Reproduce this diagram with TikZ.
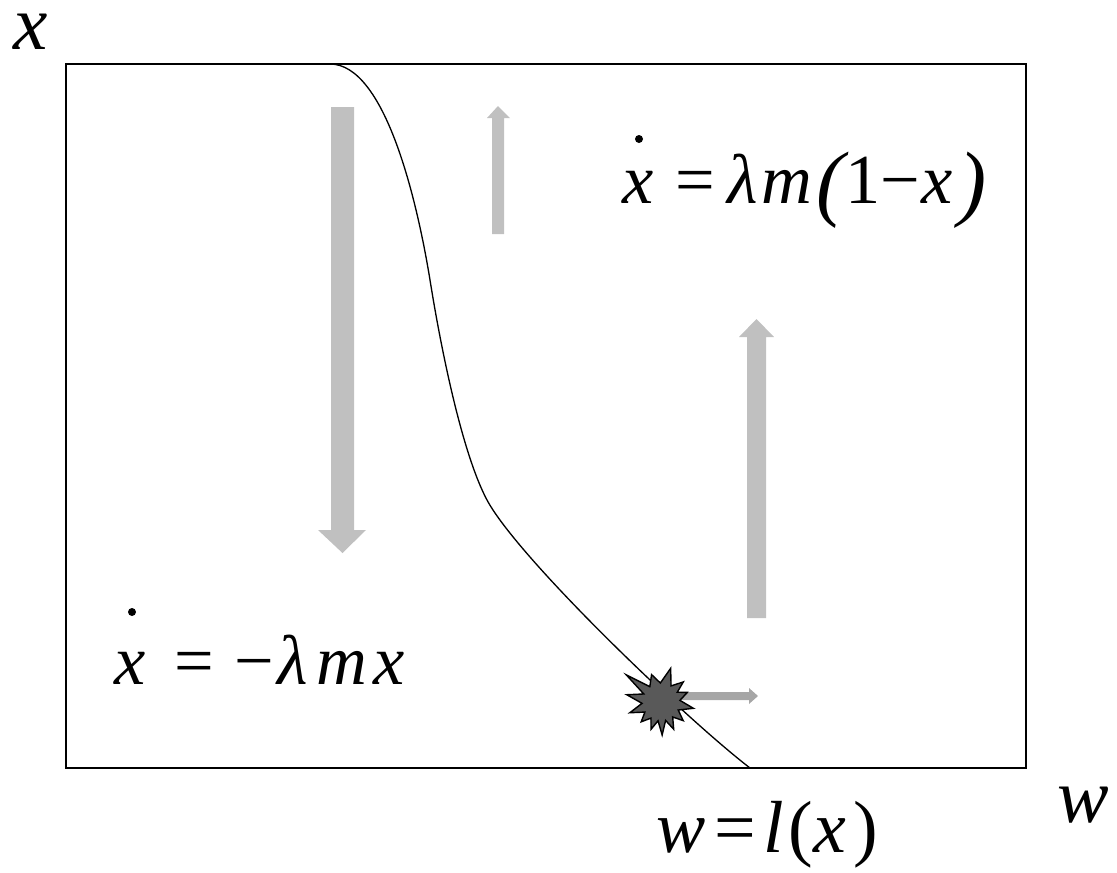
\documentclass[tikz,border=0pt]{standalone}
\usepackage{fontspec}
\setmainfont{Liberation Serif}
\definecolor{flowgray}{HTML}{C0C0C0}
\definecolor{pushgray}{HTML}{A6A6A6}
\definecolor{burstgray}{HTML}{595959}
\newcommand{\axisfont}{\fontsize{44}{48}\selectfont\itshape}
\newcommand{\eqfont}{\fontsize{40}{44}\selectfont}
\newcommand{\bigparen}[1]{\raisebox{-4pt}{\fontsize{48}{52}\selectfont #1}}
\begin{document}
\begin{tikzpicture}[x=.02cm,y=-.02cm,line width=.85pt,
  every node/.style={inner sep=0pt,anchor=base west},
  flow/.style={fill=flowgray,draw=none},
  push/.style={fill=pushgray,draw=none}]
  \path[use as bounding box] (0,0) rectangle (1117,873);
  \draw (66,64) rectangle (1026,768);
  \coordinate (burst) at (661,702);
  % the boundary w = l(x)
  \draw[line width=.75pt] (330,64) .. controls (385,64) and (417,200) .. (430,280)
    .. controls (442,355) and (463,455) .. (487,500)
    .. controls (518,558) and (685,718) .. (750,768);
  % flow of x
  \fill[flow] (331,107) -- (354,107) -- (354,530) -- (366,530) -- (342.5,553) -- (318,530)
    -- (331,530) -- cycle;
  \fill[flow] (492,234) -- (504,234) -- (504,118) -- (510,118) -- (498,106) -- (487,118)
    -- (492,118) -- cycle;
  \fill[flow] (747,618) -- (766,618) -- (766,337) -- (774,337) -- (756.5,319) -- (739,337)
    -- (747,337) -- cycle;
  \fill[push] (661,692) -- (749,692) -- (749,688) -- (758,696) -- (749,704) -- (749,700)
    -- (661,700) -- cycle;
  % the burst on the boundary
  \draw[fill=burstgray,line width=.8pt,line join=miter] (burst) +(11:33)
    \foreach \a/\r in {25/19,40/29,52/19,65/30,76/19,88/33,99/19,110/29,122/19,135/28,
      148/19,161/33,176/19,192/35,205/19,218/44,234/19,251/29,268/19,286/35,302/19,
      318/30,329/19,340/28,355/19} { -- +(\a:\r) } -- cycle;
  % labels
  \node[text height=20pt] (xaxis) at (13,49) {\axisfont x};
  \node[text height=20pt] (waxis) at (1057,822) {\axisfont w};
  \node (bound) at (656,852) {\fontsize{42}{46}\selectfont\itshape w\hspace{.12em}\upshape=\hspace{.1em}\itshape l\hspace{.06em}\upshape(\itshape x\hspace{.1em}\upshape)};
  \node (eqtop) at (622,203) {\eqfont\itshape x\hspace{.3em}\upshape=\hspace{.18em}\itshape λ\hspace{.06em}m\hspace{.06em}\bigparen{(}\upshape 1−\hspace{.03em}\itshape x\hspace{.08em}\bigparen{)}};
  \node (eqbot) at (114,684) {\eqfont\itshape x\hspace{.4em}\upshape=\hspace{.3em}−\hspace{.05em}\itshape λ\hspace{.12em}m\hspace{.08em}x};
  \fill (639,139) circle (4);
  \fill (132,612) circle (4);
\end{tikzpicture}
\end{document}
